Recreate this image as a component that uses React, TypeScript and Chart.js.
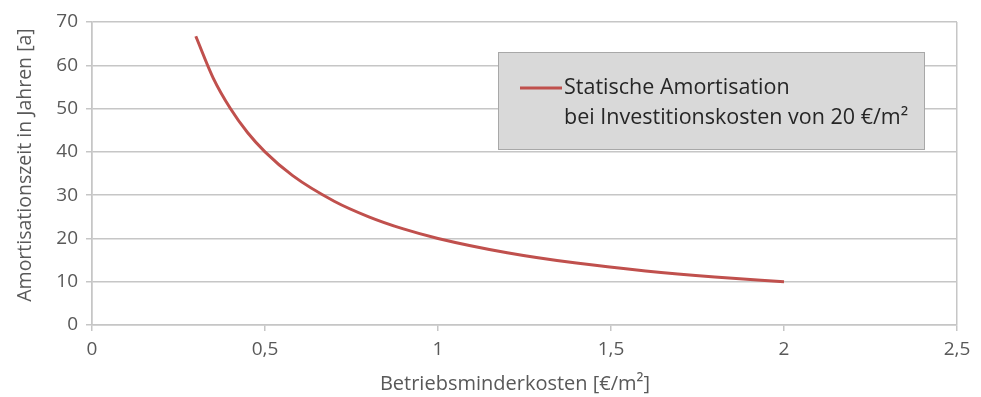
import React, { useEffect, useRef } from "react";
import { Chart, registerables } from "chart.js";

Chart.register(...registerables);

// Betriebsminderkosten [€/m²] and resulting payback period [a]
const savings: number[] = [0.3, 0.35, 0.4, 0.45, 0.5, 0.58, 0.7, 0.8, 0.9, 1.0, 1.2, 1.4, 1.6, 1.8, 2.0];
const paybackYears: number[] = [66.7, 57.1, 50.0, 44.4, 40.0, 34.5, 28.6, 25.0, 22.2, 20.0, 16.7, 14.3, 12.5, 11.1, 10.0];

const legendLines: string[] = ["Statische Amortisation", "bei Investitionskosten von 20 €/m²"];
const xTitle = "Betriebsminderkosten [€/m²]";
const yTitle = "Amortisationszeit in Jahren [a]";

const FONT = "'Open Sans', 'Noto Sans', sans-serif";
const LINE_COLOR = "#c0504d";
const GRID = "#c6c6c6";
const TEXT = "#595959";

const fmt = (v: number) => String(v).replace(".", ",");

const overlay = {
  id: "overlay",
  afterDraw(chart: any) {
    const { ctx } = chart;
    ctx.save();
    // axis titles
    ctx.fillStyle = TEXT;
    ctx.font = `20px ${FONT}`;
    ctx.textAlign = "center";
    ctx.textBaseline = "middle";
    ctx.fillText(xTitle, 515, 384);
    ctx.font = `19.5px ${FONT}`;
    ctx.translate(25, 165);
    ctx.rotate(-Math.PI / 2);
    ctx.fillText(yTitle, 0, 0);
    ctx.restore();

    // legend box
    ctx.save();
    const bx = 498.5, by = 52.5, bw = 426, bh = 97;
    ctx.fillStyle = "#d9d9d9";
    ctx.fillRect(bx, by, bw, bh);
    ctx.strokeStyle = "#a8a8a8";
    ctx.lineWidth = 1;
    ctx.strokeRect(bx, by, bw, bh);
    ctx.strokeStyle = LINE_COLOR;
    ctx.lineWidth = 3;
    ctx.beginPath();
    ctx.moveTo(520, 88);
    ctx.lineTo(562, 88);
    ctx.stroke();
    ctx.fillStyle = "#262626";
    ctx.font = `21.5px ${FONT}`;
    ctx.textAlign = "left";
    ctx.textBaseline = "middle";
    ctx.fillText(legendLines[0], 564, 88);
    ctx.fillText(legendLines[1], 564, 118);
    ctx.restore();
  },
};

export default function App() {
  const ref = useRef<HTMLCanvasElement | null>(null);

  useEffect(() => {
    document.body.style.margin = "0";
    const canvas = ref.current;
    if (!canvas) return;
    const chart = new Chart(canvas, {
      type: "line",
      data: {
        datasets: [
          {
            data: savings.map((x, i) => ({ x, y: paybackYears[i] })),
            borderColor: LINE_COLOR,
            borderWidth: 3,
            pointRadius: 0,
            cubicInterpolationMode: "monotone",
            fill: false,
          },
        ],
      },
      options: {
        animation: false,
        responsive: false,
        layout: { padding: { top: 22, right: 24, left: 0, bottom: 0 } },
        plugins: { legend: { display: false }, tooltip: { enabled: false } },
        scales: {
          x: {
            type: "linear",
            min: 0,
            max: 2.5,
            afterFit: (s: any) => { s.height = 72; },
            ticks: {
              stepSize: 0.5,
              color: TEXT,
              font: { family: FONT, size: 19 },
              padding: 7,
              callback: (v: any) => fmt(Number(v)),
            },
            grid: {
              color: (c: any) => (c.tick && (c.tick.value === 2.5 || c.tick.value === 0) ? GRID : "rgba(0,0,0,0)"),
              tickColor: GRID,
              tickLength: 6,
              lineWidth: 1.5,
            },
            border: { color: GRID, width: 1.5 },
          },
          y: {
            min: 0,
            max: 70,
            afterFit: (s: any) => { s.width = 92; },
            ticks: {
              stepSize: 10,
              color: TEXT,
              font: { family: FONT, size: 19 },
              padding: 8,
            },
            grid: {
              color: GRID,
              tickColor: GRID,
              tickLength: 6,
              lineWidth: 1.5,
            },
            border: { color: GRID, width: 1.5 },
          },
        },
      },
      plugins: [overlay],
    } as any);
    return () => chart.destroy();
  }, []);

  return (
    <div style={{ width: 981, height: 397, background: "#fff" }}>
      <canvas ref={ref} width={981} height={397} style={{ display: "block" }} />
    </div>
  );
}
